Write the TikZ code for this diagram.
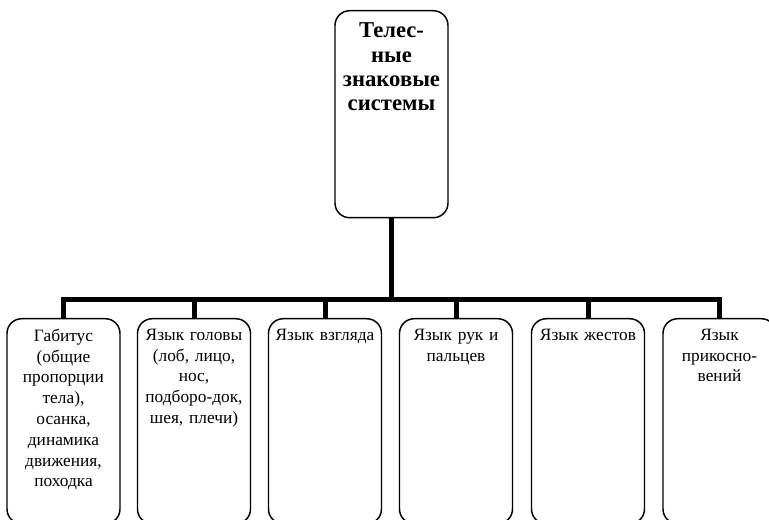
\documentclass[tikz,border=0pt]{standalone}
\usepackage{fontspec}
\setmainfont{Liberation Serif}
\usetikzlibrary{positioning}

\tikzset{
  box/.style={draw, line width=1.1pt, rounded corners=11pt, minimum width=84.75pt, inner sep=0pt, anchor=north},
  kidbox/.style={box, minimum height=153.75pt},
  kidtext/.style={text width=82pt, align=center, inner sep=0pt, font=\fontsize{13}{15.6}\selectfont},
  bus/.style={line width=3.75pt},
}

\begin{document}
\begin{tikzpicture}[x=0.75pt, y=-0.75pt]
    \useasboundingbox (0,0) rectangle (769,520);

    % верхний блок
    \node[box, minimum height=155.25pt] (root) at (391.5,10) {};
    \node[text width=82pt, align=center, inner sep=0pt, font=\bfseries\fontsize{17}{18.3}\selectfont, below=9.5pt of root.north] (roottext) {Телес-\\ные\\знаковые\\системы};

    % нижние блоки
    \node[kidbox] (c1) at (63.5,318) {};
    \node[kidbox] (c2) at (194,318) {};
    \node[kidbox] (c3) at (325,318) {};
    \node[kidbox] (c4) at (456,318) {};
    \node[kidbox] (c5) at (588,318) {};
    \node[kidbox] (c6) at (719.5,318) {};

    % подписи блоков
    \node[kidtext, below=8pt of c1.north] (t1) {Габитус\\(общие\\пропорции\\тела),\\осанка,\\динамика\\движения,\\походка};
    \node[kidtext, below=8pt of c2.north] (t2) {Язык головы\\(лоб, лицо,\\нос,\\подборо-док,\\шея, плечи)};
    \node[kidtext, below=8pt of c3.north] (t3) {Язык взгляда};
    \node[kidtext, below=8pt of c4.north] (t4) {Язык рук и\\пальцев};
    \node[kidtext, below=8pt of c5.north] (t5) {Язык жестов};
    \node[kidtext, below=8pt of c6.north] (t6) {Язык\\прикосно-\\вений};

    % соединительные линии
    \coordinate (bar) at (391.5,300);
    \draw[bus] (root.south) -- (root.south |- bar);
    \draw[bus] (c1.north) -- (c1.north |- bar) -- (c6.north |- bar) -- (c6.north);
    \foreach \k in {2,...,5}
        \draw[bus] (c\k.north) -- (c\k.north |- bar);
\end{tikzpicture}
\end{document}
